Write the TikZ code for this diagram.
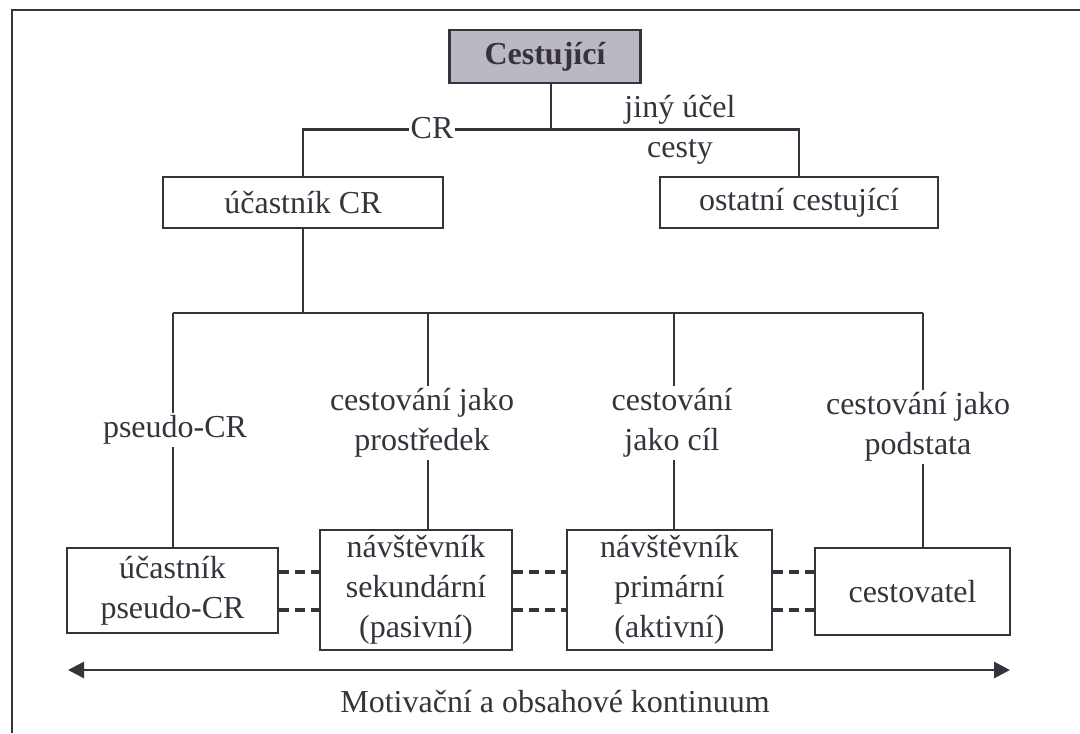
\documentclass[tikz,border=0pt]{standalone}
\usepackage{fontspec}
\setmainfont{Liberation Serif}
\usetikzlibrary{arrows.meta}
\definecolor{ink}{RGB}{55,50,60}
\definecolor{shade}{RGB}{186,184,194}
\begin{document}
\begin{tikzpicture}[x=0.5pt,y=-0.5pt,
				every node/.style={font=\fontsize{16}{20}\selectfont,text=ink},
				box/.style={draw=ink,line width=1.3pt,align=center,inner sep=0pt},
				branch/.style={align=center,inner sep=1pt},
				bus/.style={draw=ink,line width=1.2pt},
				link/.style={draw=ink,line width=2.2pt,dash pattern=on 5pt off 3pt}]
\useasboundingbox (0,0) rectangle (1080,733);
\draw[ink,line width=1.4pt] (12,733) -- (12,10) -- (1080,10);
\node[box,fill=shade,font=\fontsize{16}{20}\selectfont\bfseries,minimum width=95.5pt,minimum height=26.5pt] (cest) at (545,56.5) {Cestující};
\node[box,minimum width=140pt,minimum height=25.5pt] (ucr) at (303,202.5) {účastník CR};
\node[box,minimum width=139pt,minimum height=25.5pt] (ost) at (799,202.5) {ostatní cestující};
\draw[bus] ([xshift=3pt]cest.south) -- ++(0,45) coordinate (fork);
\draw[bus] (ucr.north) |- (fork) -| (ost.north);
\node[branch,fill=white] (cr) at (432,128) {CR};
\node[branch] (jiny) at (680,130) {jiný účel\\cesty};
\draw[bus] (ucr.south) -- ++(0,85) coordinate (hub);
\coordinate (b1) at (173,313);
\coordinate (b2) at (428,313);
\coordinate (b3) at (674,313);
\coordinate (b4) at (923,313);
\draw[bus] (b1) -- (b4);
\node[branch] (pcr) at (175,430) {pseudo-CR};
\node[branch] (prost) at (422,423) {cestování jako\\prostředek};
\node[branch] (cil) at (672,423) {cestování\\jako cíl};
\node[branch] (podst) at (918,427) {cestování jako\\podstata};
\node[box,minimum width=105.5pt,minimum height=42.5pt] (upcr) at (172.5,590.5) {účastník\\pseudo-CR};
\node[box,minimum width=96pt,minimum height=60pt] (sek) at (416,590) {návštěvník\\sekundární\\(pasivní)};
\node[box,minimum width=102.5pt,minimum height=60pt] (prim) at (669.5,590) {návštěvník\\primární\\(aktivní)};
\node[box,minimum width=97.5pt,minimum height=43.5pt] (cst) at (912.5,591.5) {cestovatel};
\draw[bus] (b1) -- (b1 |- pcr.north) (b1 |- pcr.south) -- (b1 |- upcr.north);
\draw[bus] (b2) -- (b2 |- prost.north) (b2 |- prost.south) -- (b2 |- sek.north);
\draw[bus] (b3) -- (b3 |- cil.north) (b3 |- cil.south) -- (b3 |- prim.north);
\draw[bus] (b4) -- (b4 |- podst.north) (b4 |- podst.south) -- (b4 |- cst.north);
\foreach \a/\b in {upcr/sek,sek/prim,prim/cst}
	\foreach \y in {572,610}
		\draw[link] (\a.east |- 0,\y) -- (\b.west |- 0,\y);
\coordinate (left) at (68,670);
\coordinate (right) at (1010,670);
\draw[ink,line width=1.4pt,{Triangle[length=8pt,width=8pt]}-{Triangle[length=8pt,width=8pt]}] (left) -- (right);
\node (kont) at (555,702) {Motivační a obsahové kontinuum};
\end{tikzpicture}
\end{document}
